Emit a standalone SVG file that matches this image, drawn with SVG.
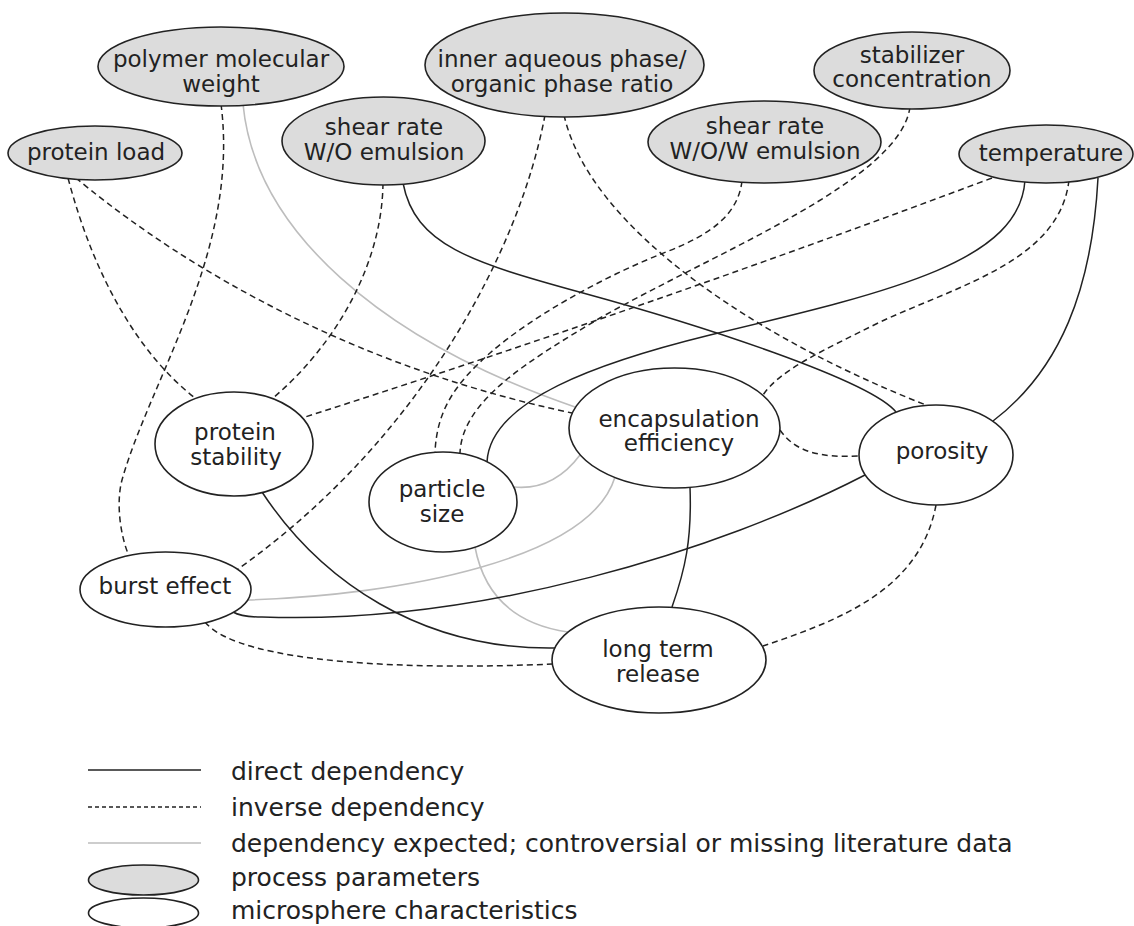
<svg xmlns="http://www.w3.org/2000/svg" width="1134" height="926" viewBox="0 0 1134 926">
<style>
.bg{fill:#ffffff}
.c{fill:none;stroke:#222;stroke-width:1.5}
.d{fill:none;stroke:#222;stroke-width:1.5;stroke-dasharray:6 4}
.g{fill:none;stroke:#bdbdbd;stroke-width:1.6}
.pp{fill:#dcdcdc;stroke:#222;stroke-width:1.6}
.mc{fill:#ffffff;stroke:#222;stroke-width:1.6}
text{font-family:"DejaVu Sans",sans-serif;font-size:23px;fill:#222;text-anchor:middle}
.lg{font-size:25px;text-anchor:start}
</style>
<rect class="bg" x="0" y="0" width="1134" height="926"/>
<g id="connectors">
<path class="d" d="M68,178 C95,280 140,355 195,398"/>
<path class="d" d="M76,178 C150,240 320,360 572,413"/>
<path class="d" d="M221,104 C240,250 150,380 122,480 C116,502 120,535 129,556"/>
<path class="g" d="M243,104 C255,230 380,340 575,407"/>
<path class="d" d="M383,183 C382,270 330,350 273,398"/>
<path class="c" d="M403,183 C415,245 470,262 583,293 C700,325 870,380 896,412"/>
<path class="d" d="M545,115 C520,250 420,440 238,569"/>
<path class="d" d="M564,115 C590,230 760,340 926,405"/>
<path class="d" d="M742,181 C738,215 710,235 666,252 C600,278 530,318 490,353 C455,384 437,410 435,452"/>
<path class="d" d="M910,107 C900,180 720,250 600,318 C530,360 462,400 460,453"/>
<path class="d" d="M992,178 Q640,310 302,418"/>
<path class="c" d="M1025,180 C1020,260 900,290 710,335 C600,362 490,400 487,462"/>
<path class="d" d="M1069,180 C1060,260 960,285 880,322 C820,352 780,370 763,395"/>
<path class="c" d="M1098,178 C1092,290 1060,370 993,421"/>
<path class="d" d="M780,430 C795,452 820,458 860,456"/>
<path class="c" d="M690,487 C692,540 685,570 672,607"/>
<path class="g" d="M615,477 C590,560 400,595 248,600"/>
<path class="g" d="M514,487 C545,490 565,475 580,455"/>
<path class="g" d="M475,547 C485,600 520,625 568,632"/>
<path class="c" d="M262,492 C320,580 420,650 555,648"/>
<path class="d" d="M205,622 C240,665 420,670 552,664"/>
<path class="c" d="M865,475 C720,550 480,625 262,617 C248,617 238,615 233,612"/>
<path class="d" d="M936,505 C920,590 840,620 763,646"/>
</g>
<g id="polymer-molecular-weight">
<ellipse class="pp" cx="221" cy="66.5" rx="123" ry="39.5"/>
<text x="221" y="67">polymer molecular</text>
<text x="221" y="92">weight</text>
</g>
<g id="inner-aqueous-ratio">
<ellipse class="pp" cx="564.5" cy="65" rx="139.5" ry="52"/>
<text x="562" y="67">inner aqueous phase/</text>
<text x="562" y="92">organic phase ratio</text>
</g>
<g id="stabilizer-concentration">
<ellipse class="pp" cx="912" cy="70.5" rx="98" ry="38.5"/>
<text x="912" y="63">stabilizer</text>
<text x="912" y="87">concentration</text>
</g>
<g id="protein-load">
<ellipse class="pp" cx="95" cy="153" rx="87" ry="27"/>
<text x="96" y="160">protein load</text>
</g>
<g id="shear-rate-wo">
<ellipse class="pp" cx="383.5" cy="141" rx="101.5" ry="44"/>
<text x="384" y="135">shear rate</text>
<text x="384" y="160">W/O emulsion</text>
</g>
<g id="shear-rate-wow">
<ellipse class="pp" cx="764.5" cy="142" rx="116.5" ry="41"/>
<text x="765" y="134">shear rate</text>
<text x="765" y="159">W/O/W emulsion</text>
</g>
<g id="temperature">
<ellipse class="pp" cx="1046" cy="154" rx="87" ry="29"/>
<text x="1051" y="161">temperature</text>
</g>
<g id="protein-stability">
<ellipse class="mc" cx="234" cy="444" rx="79" ry="52"/>
<text x="235" y="440">protein</text>
<text x="236" y="465">stability</text>
</g>
<g id="particle-size">
<ellipse class="mc" cx="443" cy="502" rx="74" ry="50"/>
<text x="442" y="497">particle</text>
<text x="442" y="522">size</text>
</g>
<g id="encapsulation-efficiency">
<ellipse class="mc" cx="674.5" cy="428" rx="105.5" ry="60"/>
<text x="679" y="427">encapsulation</text>
<text x="679" y="451">efficiency</text>
</g>
<g id="porosity">
<ellipse class="mc" cx="936" cy="455" rx="77" ry="50"/>
<text x="942" y="459">porosity</text>
</g>
<g id="burst-effect">
<ellipse class="mc" cx="165.5" cy="589.5" rx="85.5" ry="37.5"/>
<text x="165" y="594">burst effect</text>
</g>
<g id="long-term-release">
<ellipse class="mc" cx="659" cy="660" rx="107" ry="53"/>
<text x="658" y="657">long term</text>
<text x="658" y="682">release</text>
</g>
<g id="legend">
<line class="c" x1="88" y1="770" x2="201" y2="770"/>
<line x1="88" y1="807" x2="201" y2="807" style="stroke:#222;stroke-width:1.3;stroke-dasharray:4 3"/>
<line class="g" x1="88" y1="843" x2="201" y2="843"/>
<ellipse class="pp" cx="143.5" cy="880" rx="55" ry="15"/>
<ellipse class="mc" cx="143.5" cy="913" rx="55" ry="15"/>
<text class="lg" x="231" y="780">direct dependency</text>
<text class="lg" x="231" y="816">inverse dependency</text>
<text class="lg" x="231" y="852">dependency expected; controversial or missing literature data</text>
<text class="lg" x="231" y="886">process parameters</text>
<text class="lg" x="231" y="919">microsphere characteristics</text>
</g>
</svg>
